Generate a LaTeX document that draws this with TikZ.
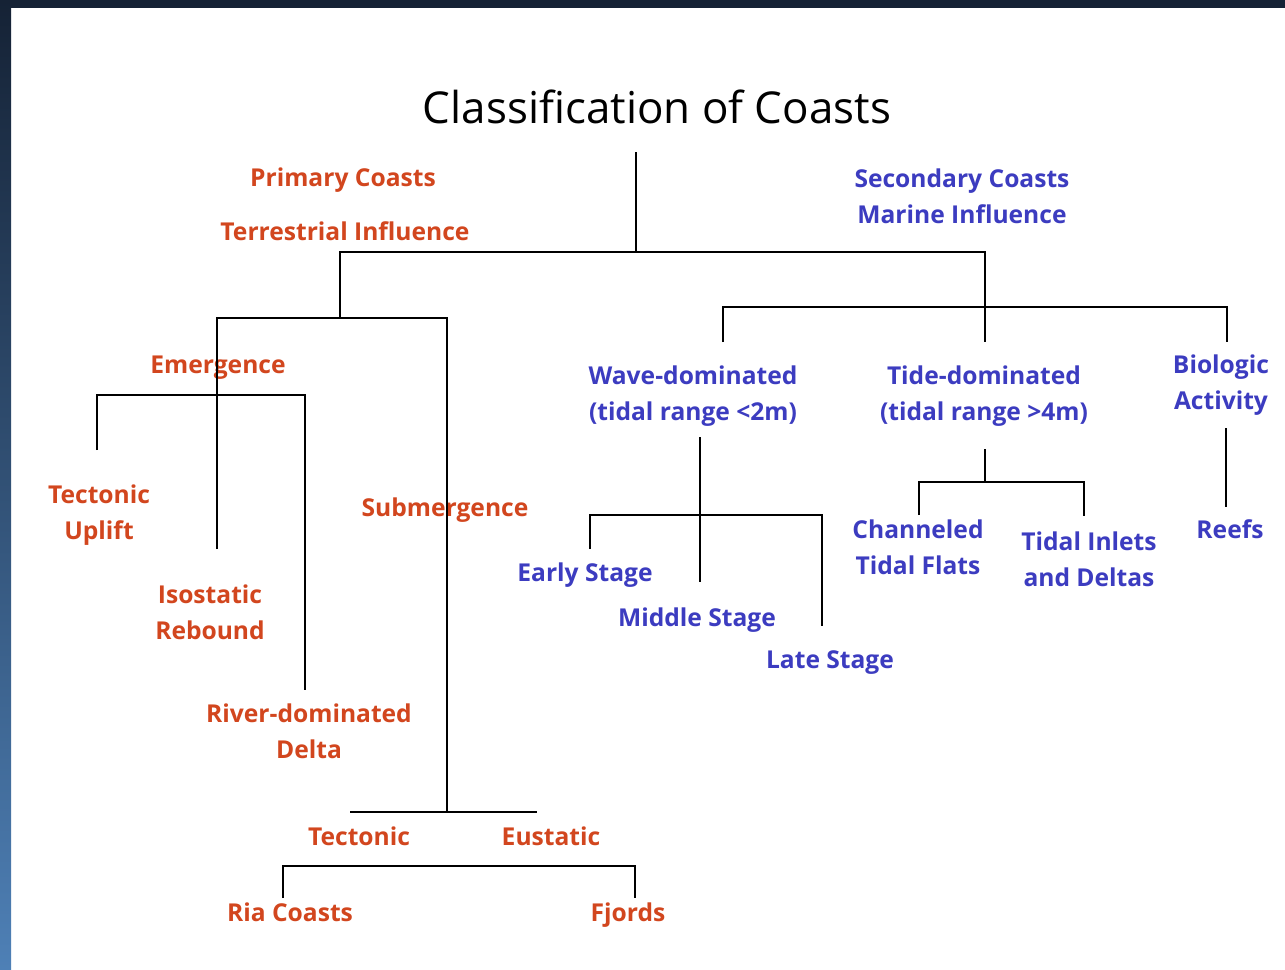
\documentclass[tikz,border=0pt]{standalone}
\usepackage{fontspec}
\setmainfont{Open Sans}
\definecolor{landred}{HTML}{D2461E}
\definecolor{seablue}{HTML}{3C3CC0}
\definecolor{slidenavy}{HTML}{152235}
\definecolor{slidesteel}{HTML}{4E80B6}
\tikzstyle{land} = [text=landred, font=\bfseries\fontsize{14}{20.4}\selectfont, align=center, inner sep=1pt]
\tikzstyle{sea} = [text=seablue, font=\bfseries\fontsize{14}{20.4}\selectfont, align=center, inner sep=1pt]
\tikzstyle{branch} = [line width=1.1pt, black]

\begin{document}
\begin{tikzpicture}[x=0.02cm, y=-0.02cm]
	\useasboundingbox (0, 0) rectangle (1285, 970);
	\fill[white] (0, 0) rectangle (1285, 970);
	\fill[slidenavy] (0, 0) rectangle (1285, 8);
	\shade[top color=slidenavy, bottom color=slidesteel] (0, 0) rectangle (11, 970);

	\node (title) at (657, 107) [font=\fontsize{25}{30}\selectfont] {Classification of Coasts};
	\node (primary) at (343, 180) [land] {Primary Coasts};
	\node (terrestrial) at (345, 231) [land] {Terrestrial Influence};
	\node (secondary) at (962, 196) [sea] {Secondary Coasts\\Marine Influence};

	\node (emergence) at (218, 368) [land] {Emergence};
	\node (uplift) at (99, 515) [land] {Tectonic\\Uplift};
	\node (rebound) at (210, 612) [land] {Isostatic\\Rebound};
	\node (riverdelta) at (309, 731) [land] {River-dominated\\Delta};
	\node (submergence) at (445, 510) [land] {Submergence};
	\node (tectonic) at (359, 836) [land] {Tectonic};
	\node (eustatic) at (551, 836) [land] {Eustatic};
	\node (ria) at (290, 912) [land] {Ria Coasts};
	\node (fjords) at (628, 915) [land] {Fjords};

	\node (wave) at (693, 396) [sea] {Wave-dominated\\(tidal range <2m)};
	\node (early) at (585, 575) [sea] {Early Stage};
	\node (middle) at (697, 620) [sea] {Middle Stage};
	\node (late) at (830, 663) [sea] {Late Stage};
	\node (tide) at (984, 396) [sea] {Tide-dominated\\(tidal range >4m)};
	\node (channeled) at (918, 547) [sea] {Channeled\\Tidal Flats};
	\node (inlets) at (1089, 559) [sea] {Tidal Inlets\\and Deltas};
	\node (biologic) at (1221, 385) [sea] {Biologic\\Activity};
	\node (reefs) at (1230, 529) [sea] {Reefs};

	\coordinate (stem) at (636, 152);
	\coordinate (split) at (636, 252);
	\coordinate (primj) at (340, 318);
	\coordinate (secj) at (985, 307);
	\coordinate (tidetop) at (985, 342);
	\coordinate (emline) at (217, 549);
	\coordinate (emj) at (217, 395);
	\coordinate (subline) at (447, 812);
	\coordinate (uplifttop) at (97, 450);
	\coordinate (rivertop) at (305, 690);
	\coordinate (tecleft) at (350, 812);
	\coordinate (eusright) at (537, 812);
	\coordinate (riatop) at (283, 898);
	\coordinate (fjordtop) at (635, 898);
	\coordinate (wavetop) at (723, 342);
	\coordinate (biotop) at (1227, 342);
	\coordinate (wavefoot) at (700, 437);
	\coordinate (wavej) at (700, 515);
	\coordinate (middletop) at (700, 582);
	\coordinate (earlytop) at (590, 549);
	\coordinate (latetop) at (822, 626);
	\coordinate (tidefoot) at (985, 449);
	\coordinate (tidej) at (985, 482);
	\coordinate (chantop) at (919, 515);
	\coordinate (inlettop) at (1084, 516);
	\coordinate (biofoot) at (1226, 428);
	\coordinate (reeftop) at (1226, 507);

	\draw[branch] (stem) -- (split);
	\draw[branch] (primj) |- (split) -| (tidetop);
	\draw[branch] (emline) |- (primj) -| (subline);
	\draw[branch] (uplifttop) |- (emj) -| (rivertop);
	\draw[branch] (tecleft) -- (eusright);
	\draw[branch] (riatop) -- ++(0, -32) -| (fjordtop);
	\draw[branch] (wavetop) |- (secj) -| (biotop);
	\draw[branch] (wavefoot) -- (middletop);
	\draw[branch] (earlytop) |- (wavej) -| (latetop);
	\draw[branch] (tidefoot) -- (tidej);
	\draw[branch] (chantop) |- (tidej) -| (inlettop);
	\draw[branch] (biofoot) -- (reeftop);
\end{tikzpicture}
\end{document}
